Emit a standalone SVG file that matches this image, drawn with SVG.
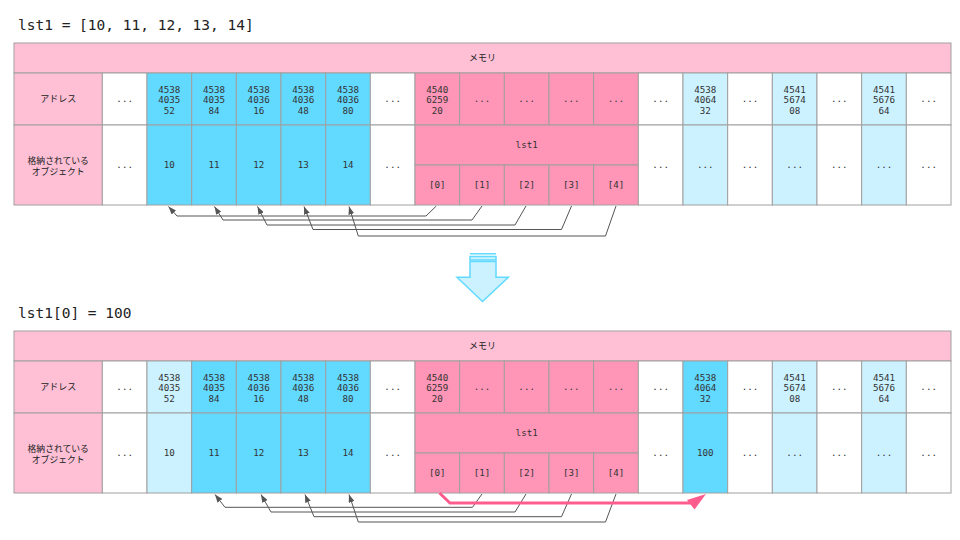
<svg xmlns="http://www.w3.org/2000/svg" width="960" height="540" viewBox="0 0 960 540">
<style>
.w,.b,.lb,.p,.dp{stroke:#A0A0A0;stroke-width:1}
.w{fill:#FFFFFF}.b{fill:#62D9FF}.lb{fill:#CCF2FF}.p{fill:#FFC0D6}.dp{fill:#FF96B7}
text{font-family:"DejaVu Sans Mono","Liberation Mono",monospace;font-size:9.2px;fill:#333;text-anchor:middle}
.j{font-family:"Noto Sans CJK JP","Noto Sans",sans-serif;font-size:9px;fill:#222}
.j2{font-family:"Noto Sans CJK JP","Noto Sans",sans-serif;font-size:8.8px;fill:#222}
.h{font-size:14.5px;text-anchor:start;fill:#222}
.c{fill:none;stroke:#555;stroke-width:1}
.pk{fill:none;stroke:#FF5C8E;stroke-width:3;stroke-linejoin:miter}
</style>
<defs>
<marker id="ah" markerUnits="userSpaceOnUse" markerWidth="8" markerHeight="6" refX="8" refY="3" orient="auto"><path d="M0,0 L8,3 L0,6 z" fill="#555"/></marker>
</defs>
<rect width="960" height="540" fill="#fff"/>

<text class="h" x="18" y="30">lst1 = [10, 11, 12, 13, 14]</text>

<g id="top-table">
<g id="t-title"><rect class="p" x="14" y="43" width="937" height="30"/><text class="j" x="482.5" y="61.4">メモリ</text></g>
<g id="t-lab-addr"><rect class="p" x="14" y="73" width="88.33" height="52"/><text class="j" x="58.2" y="102.4">アドレス</text></g>
<g id="t-lab-obj"><rect class="p" x="14" y="125" width="88.33" height="80"/><text class="j2" x="58.2" y="164">格納されている</text><text class="j2" x="58.2" y="175.3">オブジェクト</text></g>
<g id="t-a0"><rect class="w" x="102.33" y="73" width="44.67" height="52"/><text x="124.67" y="102.3">...</text></g>
<g id="t-a1"><rect class="b" x="147" y="73" width="44.67" height="52"/><text x="169.33" y="92.6">4538<tspan x="169.33" dy="10.7">4035</tspan><tspan x="169.33" dy="10.7">52</tspan></text></g>
<g id="t-a2"><rect class="b" x="191.67" y="73" width="44.67" height="52"/><text x="214" y="92.6">4538<tspan x="214" dy="10.7">4035</tspan><tspan x="214" dy="10.7">84</tspan></text></g>
<g id="t-a3"><rect class="b" x="236.33" y="73" width="44.67" height="52"/><text x="258.67" y="92.6">4538<tspan x="258.67" dy="10.7">4036</tspan><tspan x="258.67" dy="10.7">16</tspan></text></g>
<g id="t-a4"><rect class="b" x="281" y="73" width="44.67" height="52"/><text x="303.33" y="92.6">4538<tspan x="303.33" dy="10.7">4036</tspan><tspan x="303.33" dy="10.7">48</tspan></text></g>
<g id="t-a5"><rect class="b" x="325.67" y="73" width="44.67" height="52"/><text x="348" y="92.6">4538<tspan x="348" dy="10.7">4036</tspan><tspan x="348" dy="10.7">80</tspan></text></g>
<g id="t-a6"><rect class="w" x="370.33" y="73" width="44.67" height="52"/><text x="392.67" y="102.3">...</text></g>
<g id="t-a7"><rect class="dp" x="415" y="73" width="44.67" height="52"/><text x="437.33" y="92.6">4540<tspan x="437.33" dy="10.7">6259</tspan><tspan x="437.33" dy="10.7">20</tspan></text></g>
<g id="t-a8"><rect class="dp" x="459.67" y="73" width="44.67" height="52"/><text x="482" y="102.3">...</text></g>
<g id="t-a9"><rect class="dp" x="504.33" y="73" width="44.67" height="52"/><text x="526.67" y="102.3">...</text></g>
<g id="t-a10"><rect class="dp" x="549" y="73" width="44.67" height="52"/><text x="571.33" y="102.3">...</text></g>
<g id="t-a11"><rect class="dp" x="593.67" y="73" width="44.67" height="52"/><text x="616" y="102.3">...</text></g>
<g id="t-a12"><rect class="w" x="638.33" y="73" width="44.67" height="52"/><text x="660.67" y="102.3">...</text></g>
<g id="t-a13"><rect class="lb" x="683" y="73" width="44.67" height="52"/><text x="705.33" y="92.6">4538<tspan x="705.33" dy="10.7">4064</tspan><tspan x="705.33" dy="10.7">32</tspan></text></g>
<g id="t-a14"><rect class="w" x="727.67" y="73" width="44.67" height="52"/><text x="750" y="102.3">...</text></g>
<g id="t-a15"><rect class="lb" x="772.33" y="73" width="44.67" height="52"/><text x="794.67" y="92.6">4541<tspan x="794.67" dy="10.7">5674</tspan><tspan x="794.67" dy="10.7">08</tspan></text></g>
<g id="t-a16"><rect class="w" x="817" y="73" width="44.67" height="52"/><text x="839.33" y="102.3">...</text></g>
<g id="t-a17"><rect class="lb" x="861.67" y="73" width="44.67" height="52"/><text x="884" y="92.6">4541<tspan x="884" dy="10.7">5676</tspan><tspan x="884" dy="10.7">64</tspan></text></g>
<g id="t-a18"><rect class="w" x="906.33" y="73" width="44.67" height="52"/><text x="928.67" y="102.3">...</text></g>

<g id="t-o0"><rect class="w" x="102.33" y="125" width="44.67" height="80"/><text x="124.67" y="168.3">...</text></g>
<g id="t-o1"><rect class="b" x="147" y="125" width="44.67" height="80"/><text x="169.33" y="168.3">10</text></g>
<g id="t-o2"><rect class="b" x="191.67" y="125" width="44.67" height="80"/><text x="214" y="168.3">11</text></g>
<g id="t-o3"><rect class="b" x="236.33" y="125" width="44.67" height="80"/><text x="258.67" y="168.3">12</text></g>
<g id="t-o4"><rect class="b" x="281" y="125" width="44.67" height="80"/><text x="303.33" y="168.3">13</text></g>
<g id="t-o5"><rect class="b" x="325.67" y="125" width="44.67" height="80"/><text x="348" y="168.3">14</text></g>
<g id="t-o6"><rect class="w" x="370.33" y="125" width="44.67" height="80"/><text x="392.67" y="168.3">...</text></g>
<g id="t-lst1"><rect class="dp" x="415" y="125" width="223.33" height="40"/><text x="526.67" y="148.3">lst1</text></g>
<g id="t-i0"><rect class="dp" x="415" y="165" width="44.67" height="40"/><text x="437.33" y="188.3">[0]</text></g>
<g id="t-i1"><rect class="dp" x="459.67" y="165" width="44.67" height="40"/><text x="482" y="188.3">[1]</text></g>
<g id="t-i2"><rect class="dp" x="504.33" y="165" width="44.67" height="40"/><text x="526.67" y="188.3">[2]</text></g>
<g id="t-i3"><rect class="dp" x="549" y="165" width="44.67" height="40"/><text x="571.33" y="188.3">[3]</text></g>
<g id="t-i4"><rect class="dp" x="593.67" y="165" width="44.67" height="40"/><text x="616" y="188.3">[4]</text></g>
<g id="t-o12"><rect class="w" x="638.33" y="125" width="44.67" height="80"/><text x="660.67" y="168.3">...</text></g>
<g id="t-o13"><rect class="lb" x="683" y="125" width="44.67" height="80"/><text x="705.33" y="168.3">...</text></g>
<g id="t-o14"><rect class="w" x="727.67" y="125" width="44.67" height="80"/><text x="750" y="168.3">...</text></g>
<g id="t-o15"><rect class="lb" x="772.33" y="125" width="44.67" height="80"/><text x="794.67" y="168.3">...</text></g>
<g id="t-o16"><rect class="w" x="817" y="125" width="44.67" height="80"/><text x="839.33" y="168.3">...</text></g>
<g id="t-o17"><rect class="lb" x="861.67" y="125" width="44.67" height="80"/><text x="884" y="168.3">...</text></g>
<g id="t-o18"><rect class="w" x="906.33" y="125" width="44.67" height="80"/><text x="928.67" y="168.3">...</text></g>
</g>

<g id="down-arrow">
<rect x="470" y="253" width="26" height="1.5" fill="#62D9FF"/>
<rect x="470" y="256.5" width="26" height="3.5" fill="#CCF2FF" stroke="#62D9FF" stroke-width="1.5"/>
<polygon points="470,261.5 496,261.5 496,277.3 508.3,277.3 482.5,301.5 457,277.3 470,277.3" fill="#CCF2FF" stroke="#62D9FF" stroke-width="1.5"/>
</g>

<text class="h" x="18" y="318">lst1[0] = 100</text>

<g id="bottom-table">
<g id="b-title"><rect class="p" x="14" y="331" width="937" height="30"/><text class="j" x="482.5" y="349.4">メモリ</text></g>
<g id="b-lab-addr"><rect class="p" x="14" y="361" width="88.33" height="52"/><text class="j" x="58.2" y="390.4">アドレス</text></g>
<g id="b-lab-obj"><rect class="p" x="14" y="413" width="88.33" height="80"/><text class="j2" x="58.2" y="452">格納されている</text><text class="j2" x="58.2" y="463.3">オブジェクト</text></g>
<g id="b-a0"><rect class="w" x="102.33" y="361" width="44.67" height="52"/><text x="124.67" y="390.3">...</text></g>
<g id="b-a1"><rect class="lb" x="147" y="361" width="44.67" height="52"/><text x="169.33" y="380.6">4538<tspan x="169.33" dy="10.7">4035</tspan><tspan x="169.33" dy="10.7">52</tspan></text></g>
<g id="b-a2"><rect class="b" x="191.67" y="361" width="44.67" height="52"/><text x="214" y="380.6">4538<tspan x="214" dy="10.7">4035</tspan><tspan x="214" dy="10.7">84</tspan></text></g>
<g id="b-a3"><rect class="b" x="236.33" y="361" width="44.67" height="52"/><text x="258.67" y="380.6">4538<tspan x="258.67" dy="10.7">4036</tspan><tspan x="258.67" dy="10.7">16</tspan></text></g>
<g id="b-a4"><rect class="b" x="281" y="361" width="44.67" height="52"/><text x="303.33" y="380.6">4538<tspan x="303.33" dy="10.7">4036</tspan><tspan x="303.33" dy="10.7">48</tspan></text></g>
<g id="b-a5"><rect class="b" x="325.67" y="361" width="44.67" height="52"/><text x="348" y="380.6">4538<tspan x="348" dy="10.7">4036</tspan><tspan x="348" dy="10.7">80</tspan></text></g>
<g id="b-a6"><rect class="w" x="370.33" y="361" width="44.67" height="52"/><text x="392.67" y="390.3">...</text></g>
<g id="b-a7"><rect class="dp" x="415" y="361" width="44.67" height="52"/><text x="437.33" y="380.6">4540<tspan x="437.33" dy="10.7">6259</tspan><tspan x="437.33" dy="10.7">20</tspan></text></g>
<g id="b-a8"><rect class="dp" x="459.67" y="361" width="44.67" height="52"/><text x="482" y="390.3">...</text></g>
<g id="b-a9"><rect class="dp" x="504.33" y="361" width="44.67" height="52"/><text x="526.67" y="390.3">...</text></g>
<g id="b-a10"><rect class="dp" x="549" y="361" width="44.67" height="52"/><text x="571.33" y="390.3">...</text></g>
<g id="b-a11"><rect class="dp" x="593.67" y="361" width="44.67" height="52"/><text x="616" y="390.3">...</text></g>
<g id="b-a12"><rect class="w" x="638.33" y="361" width="44.67" height="52"/><text x="660.67" y="390.3">...</text></g>
<g id="b-a13"><rect class="b" x="683" y="361" width="44.67" height="52"/><text x="705.33" y="380.6">4538<tspan x="705.33" dy="10.7">4064</tspan><tspan x="705.33" dy="10.7">32</tspan></text></g>
<g id="b-a14"><rect class="w" x="727.67" y="361" width="44.67" height="52"/><text x="750" y="390.3">...</text></g>
<g id="b-a15"><rect class="lb" x="772.33" y="361" width="44.67" height="52"/><text x="794.67" y="380.6">4541<tspan x="794.67" dy="10.7">5674</tspan><tspan x="794.67" dy="10.7">08</tspan></text></g>
<g id="b-a16"><rect class="w" x="817" y="361" width="44.67" height="52"/><text x="839.33" y="390.3">...</text></g>
<g id="b-a17"><rect class="lb" x="861.67" y="361" width="44.67" height="52"/><text x="884" y="380.6">4541<tspan x="884" dy="10.7">5676</tspan><tspan x="884" dy="10.7">64</tspan></text></g>
<g id="b-a18"><rect class="w" x="906.33" y="361" width="44.67" height="52"/><text x="928.67" y="390.3">...</text></g>

<g id="b-o0"><rect class="w" x="102.33" y="413" width="44.67" height="80"/><text x="124.67" y="456.3">...</text></g>
<g id="b-o1"><rect class="lb" x="147" y="413" width="44.67" height="80"/><text x="169.33" y="456.3">10</text></g>
<g id="b-o2"><rect class="b" x="191.67" y="413" width="44.67" height="80"/><text x="214" y="456.3">11</text></g>
<g id="b-o3"><rect class="b" x="236.33" y="413" width="44.67" height="80"/><text x="258.67" y="456.3">12</text></g>
<g id="b-o4"><rect class="b" x="281" y="413" width="44.67" height="80"/><text x="303.33" y="456.3">13</text></g>
<g id="b-o5"><rect class="b" x="325.67" y="413" width="44.67" height="80"/><text x="348" y="456.3">14</text></g>
<g id="b-o6"><rect class="w" x="370.33" y="413" width="44.67" height="80"/><text x="392.67" y="456.3">...</text></g>
<g id="b-lst1"><rect class="dp" x="415" y="413" width="223.33" height="40"/><text x="526.67" y="436.3">lst1</text></g>
<g id="b-i0"><rect class="dp" x="415" y="453" width="44.67" height="40"/><text x="437.33" y="476.3">[0]</text></g>
<g id="b-i1"><rect class="dp" x="459.67" y="453" width="44.67" height="40"/><text x="482" y="476.3">[1]</text></g>
<g id="b-i2"><rect class="dp" x="504.33" y="453" width="44.67" height="40"/><text x="526.67" y="476.3">[2]</text></g>
<g id="b-i3"><rect class="dp" x="549" y="453" width="44.67" height="40"/><text x="571.33" y="476.3">[3]</text></g>
<g id="b-i4"><rect class="dp" x="593.67" y="453" width="44.67" height="40"/><text x="616" y="476.3">[4]</text></g>
<g id="b-o12"><rect class="w" x="638.33" y="413" width="44.67" height="80"/><text x="660.67" y="456.3">...</text></g>
<g id="b-o13"><rect class="b" x="683" y="413" width="44.67" height="80"/><text x="705.33" y="456.3">100</text></g>
<g id="b-o14"><rect class="w" x="727.67" y="413" width="44.67" height="80"/><text x="750" y="456.3">...</text></g>
<g id="b-o15"><rect class="lb" x="772.33" y="413" width="44.67" height="80"/><text x="794.67" y="456.3">...</text></g>
<g id="b-o16"><rect class="w" x="817" y="413" width="44.67" height="80"/><text x="839.33" y="456.3">...</text></g>
<g id="b-o17"><rect class="lb" x="861.67" y="413" width="44.67" height="80"/><text x="884" y="456.3">...</text></g>
<g id="b-o18"><rect class="w" x="906.33" y="413" width="44.67" height="80"/><text x="928.67" y="456.3">...</text></g>
</g>

<g id="connectors">
<path class="c" marker-end="url(#ah)" d="M436.3,206 L426,216 L177,216 L168.5,206.5"/>
<path class="c" marker-end="url(#ah)" d="M482,206 L472,220 L223,220 L214.5,206.5"/>
<path class="c" marker-end="url(#ah)" d="M526,206 L515,225 L267,225 L257.5,206.5"/>
<path class="c" marker-end="url(#ah)" d="M571.5,206 L561.5,229.5 L313,229.5 L304,206.5"/>
<path class="c" marker-end="url(#ah)" d="M616,206 L605.5,236 L358.3,236 L349,206.5"/>

<path class="c" marker-end="url(#ah)" d="M482,494 L472.5,507.3 L225,507.3 L215,494.5"/>
<path class="c" marker-end="url(#ah)" d="M526,494 L515,512 L271,512 L261,494.5"/>
<path class="c" marker-end="url(#ah)" d="M571.5,494 L561.5,516.7 L314,516.7 L305,494.5"/>
<path class="c" marker-end="url(#ah)" d="M616,494 L605.5,522 L358.3,522 L349,494.5"/>

<path class="pk" d="M439.5,493 L450,503 L692,503"/>
<polygon points="706,494 687,500 694.5,509.5" fill="#FF5C8E"/>
</g>
</svg>
